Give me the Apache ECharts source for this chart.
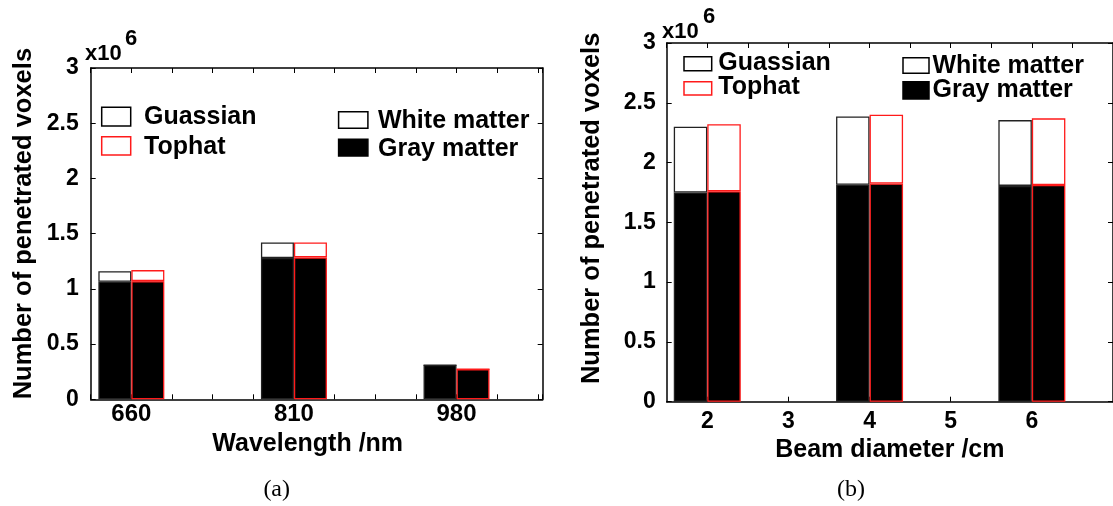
<!DOCTYPE html>
<html>
<head>
<meta charset="utf-8">
<script src="https://cdn.jsdelivr.net/npm/echarts@6/dist/echarts.min.js"></script>
<style>
  html, body { margin: 0; background: #fff; }
  #chart { width: 1113px; height: 506px; }
</style>
</head>
<body>
<div id="chart"></div>
<script>
// panel (a): wavelength, values in units of 1e6 voxels
const wavelengths = ['660', '810', '980']
const wavePos = [1, 2, 3]
const waveGaussGray = [1.065, 1.28, 0.31]
const waveGaussWhite = [0.095, 0.14, 0]
const waveTophatGray = [1.07, 1.285, 0.272]
const waveTophatWhite = [0.1, 0.135, 0]

// panel (b): beam diameter
const diameters = [2, 4, 6]
const diameterTicks = [2, 3, 4, 5, 6]
const beamGaussGray = [1.75, 1.815, 1.805]
const beamGaussWhite = [0.55, 0.57, 0.55]
const beamTophatGray = [1.76, 1.825, 1.812]
const beamTophatWhite = [0.56, 0.575, 0.558]

const FONT = 'Liberation Sans, Arial, sans-serif'
const RED = '#ff1a1a'
const EDGE = '#222'

const axisLine = { show: true, onZero: false, lineStyle: { color: '#000', width: 1.5 } }
const tickIn = { show: true, inside: true, length: 5, lineStyle: { color: '#000', width: 1 } }

// value goes first in each item so the stack is applied to y, not to the x position
function bar(name, xs, vals, stack, gi, fill, border, width) {
  return {
    name,
    type: 'bar',
    stack,
    xAxisIndex: gi * 2,
    yAxisIndex: gi * 2,
    encode: { x: 1, y: 0 },
    barWidth: width,
    barGap: '0%',
    itemStyle: { color: fill, borderColor: border, borderWidth: 1.3 },
    data: vals.map((v, i) => [v, xs[i]]),
    silent: true
  }
}

function yAxes(gi, opts) {
  return [
    {
      type: 'value', gridIndex: gi, min: 0, max: 3, interval: 0.5,
      axisLine, axisTick: tickIn, splitLine: { show: false },
      axisLabel: { color: '#000', fontSize: 23, fontWeight: 'bold', fontFamily: FONT, margin: opts.margin },
      name: 'Number of penetrated voxels',
      nameLocation: 'middle',
      nameGap: opts.nameGap,
      nameTextStyle: {
        color: '#000', fontSize: 25.5, fontWeight: 'bold', fontFamily: FONT,
        padding: [0, 0, 0, opts.shift]
      }
    },
    {
      type: 'value', gridIndex: gi, position: 'right', min: 0, max: 3, interval: 0.5,
      axisLine, axisTick: tickIn, axisLabel: { show: false }, splitLine: { show: false }
    }
  ]
}

function label(text, x, y, size) {
  return {
    type: 'text', x, y,
    style: { text, fill: '#000', font: `bold ${size || 25}px ${FONT}`, verticalAlign: 'middle' }
  }
}
function box(x, y, w, h, fill, stroke) {
  return { type: 'rect', shape: { x, y, width: w, height: h }, style: { fill, stroke, lineWidth: 1.5 } }
}
function caption(text, x) {
  return {
    type: 'text', x, y: 490,
    style: { text, fill: '#000', font: '24px Liberation Serif, serif', align: 'center', verticalAlign: 'middle' }
  }
}

const chart = echarts.init(document.getElementById('chart'))

chart.setOption({
  animation: false,
  grid: [
    { left: 90.7, top: 68, width: 452, height: 331.3 },
    { left: 666.7, top: 43, width: 454.3, height: 358.7 }
  ],
  xAxis: [
    {
      type: 'value', gridIndex: 0, min: 0.75, max: 3.53, interval: 0.25,
      axisLine, axisTick: tickIn, splitLine: { show: false },
      axisLabel: {
        color: '#000', fontSize: 24, fontWeight: 'bold', fontFamily: FONT, margin: 3,
        formatter: v => (Number.isInteger(v) ? wavelengths[wavePos.indexOf(v)] || '' : '')
      },
      name: 'Wavelength /nm', nameLocation: 'middle', nameGap: 20,
      nameTextStyle: {
        color: '#000', fontSize: 25, fontWeight: 'bold', fontFamily: FONT,
        verticalAlign: 'top', padding: [0, 18, 0, 0]
      }
    },
    {
      type: 'value', gridIndex: 0, position: 'top', min: 0.75, max: 3.53, interval: 0.25,
      axisLine, axisTick: tickIn, axisLabel: { show: false }, splitLine: { show: false }
    },
    {
      type: 'value', gridIndex: 1, min: 1.5, max: 7,
      axisLine, splitLine: { show: false },
      axisTick: Object.assign({}, tickIn, { customValues: diameterTicks }),
      axisLabel: {
        color: '#000', fontSize: 23, fontWeight: 'bold', fontFamily: FONT, margin: 8,
        customValues: diameterTicks
      },
      name: 'Beam diameter /cm', nameLocation: 'middle', nameGap: 30,
      nameTextStyle: { color: '#000', fontSize: 25, fontWeight: 'bold', fontFamily: FONT, verticalAlign: 'top' }
    },
    {
      type: 'value', gridIndex: 1, position: 'top', min: 1.5, max: 7, interval: 0.5,
      axisLine, axisTick: tickIn, axisLabel: { show: false }, splitLine: { show: false }
    }
  ],
  yAxis: [
    ...yAxes(0, { margin: 12, nameGap: 54, shift: 20 }),
    ...yAxes(1, { margin: 11, nameGap: 62, shift: 28 })
  ],
  series: [
    bar('Gaussian gray', wavePos, waveGaussGray, 'wg', 0, '#000', EDGE, 33),
    bar('Gaussian white', wavePos, waveGaussWhite, 'wg', 0, '#fff', EDGE, 33),
    bar('Tophat gray', wavePos, waveTophatGray, 'wt', 0, '#000', RED, 33),
    bar('Tophat white', wavePos, waveTophatWhite, 'wt', 0, '#fff', RED, 33),
    bar('Gaussian gray', diameters, beamGaussGray, 'bg', 1, '#000', EDGE, 33.5),
    bar('Gaussian white', diameters, beamGaussWhite, 'bg', 1, '#fff', EDGE, 33.5),
    bar('Tophat gray', diameters, beamTophatGray, 'bt', 1, '#000', RED, 33.5),
    bar('Tophat white', diameters, beamTophatWhite, 'bt', 1, '#fff', RED, 33.5)
  ],
  graphic: [
    // multiplier labels
    label('x10', 85, 54, 22),
    label('6', 125, 39, 22),
    label('x10', 662, 31.5, 22),
    label('6', 703, 16.5, 22),
    // legend (a)
    box(101.7, 107.3, 29, 18.7, '#fff', '#000'),
    label('Guassian', 144, 117.5),
    box(101.7, 136.7, 29, 18.3, '#fff', RED),
    label('Tophat', 144, 147),
    box(338.6, 111.7, 29.3, 16.6, '#fff', '#000'),
    label('White matter', 378, 121),
    box(338.6, 139.3, 29.3, 16.7, '#000', '#000'),
    label('Gray matter', 378, 149.5),
    // legend (b)
    box(684, 56.7, 27.7, 14, '#fff', '#000'),
    label('Guassian', 718.3, 63.3),
    box(684, 81.7, 27.7, 13.3, '#fff', RED),
    label('Tophat', 718.3, 87.5),
    box(903, 57.7, 26, 15.6, '#fff', '#000'),
    label('White matter', 932.5, 66),
    box(903, 81.7, 26, 17.3, '#000', '#000'),
    label('Gray matter', 932.5, 90),
    // captions
    caption('(a)', 276.7),
    caption('(b)', 851)
  ]
})
</script>
</body>
</html>
